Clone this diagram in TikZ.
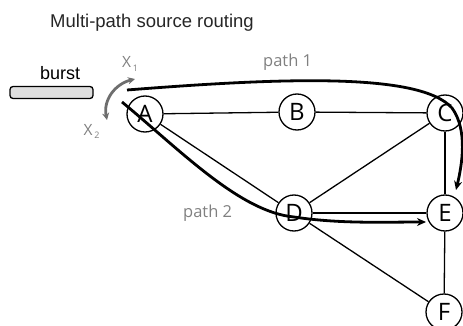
\documentclass[tikz,border=0pt]{standalone}
\usepackage{fontspec}
\setmainfont{Liberation Sans}
\newfontfamily\lblfont{Open Sans}
\usetikzlibrary{arrows.meta}
\definecolor{lblgray}{RGB}{128,128,128}
\definecolor{arrgray}{RGB}{110,110,110}
\begin{document}
\begin{tikzpicture}[x=1pt,y=-1pt,
  vertex/.style={circle,draw,line width=1.3pt,minimum size=36pt,inner sep=0pt,fill=white,
    font=\lblfont\fontsize{24}{24}\selectfont},
  edge/.style={line width=1.3pt},
  route/.style={line width=2.8pt,-{Stealth[length=9pt,width=8pt]}},
  lbl/.style={text=lblgray,inner sep=0pt,anchor=base west,font=\lblfont\fontsize{16.5}{16.5}\selectfont},
  xlbl/.style={text=lblgray,inner sep=0pt,font=\lblfont\fontsize{15.5}{15.5}\selectfont},
  sublbl/.style={text=lblgray,inner sep=0pt,font=\lblfont\fontsize{9}{9}\selectfont},
]
\useasboundingbox (0,0) rectangle (463,326);

\node[anchor=base west,inner sep=0pt,text=black!85,font=\fontsize{18.5}{18.5}\selectfont] (title) at (50,28) {Multi-path source routing};

\node[anchor=base west,inner sep=0pt,font=\fontsize{18}{18}\selectfont] (bursttxt) at (40,80) {burst};
\node[draw,line width=1.3pt,rounded corners=3pt,fill=gray!25,minimum width=83pt,minimum height=12pt,inner sep=0pt] (burst) at (51.5,92.5) {};

\node[vertex] (A) at (145,114) {A};
\node[vertex] (B) at (297,112) {B};
\node[vertex] (C) at (445,113) {C};
\node[vertex] (D) at (294,213) {D};
\node[vertex] (E) at (445,213) {E};
\node[vertex] (F) at (444,312) {F};

\draw[edge] (A) -- (B);
\draw[edge] (B) -- (C);
\draw[edge] (A) -- (D);
\draw[edge] (C) -- (D);
\draw[edge] (D) -- (E);
\draw[edge] (D) -- (F);
\draw[edge] (C) -- (E);
\draw[edge] (E) -- (F);

\node[xlbl] (x1) at (126.5,61.5) {X};
\node[sublbl] (x1s) at (135.5,68) {1};
\node[xlbl] (x2) at (88,130) {X};
\node[sublbl] (x2s) at (97,135.5) {2};
\coordinate (g1) at (107,120);
\coordinate (g2) at (135,79);
\draw[arrgray,line width=2.8pt,{Stealth[length=7pt,width=7pt]}-{Stealth[length=7pt,width=7pt]}]
  (g1) .. controls (103,100) and (115,84) .. (g2);

\coordinate (p1s) at (127,90);
\coordinate (p1m) at (452,108);
\coordinate (p1e) at (456,190);
\draw[route] (p1s) .. controls (280,78) and (420,72) .. (p1m) .. controls (468,130) and (462,165) .. (p1e);

\coordinate (p2s) at (122,102);
\coordinate (p2m) at (294,217);
\coordinate (p2e) at (426,222);
\draw[route] (p2s) .. controls (180,150) and (240,212) .. (p2m) .. controls (340,224) and (385,222) .. (p2e);

\node[lbl] (path1) at (263,67) {path 1};
\node[lbl] (path2) at (183,217) {path 2};
\end{tikzpicture}
\end{document}
